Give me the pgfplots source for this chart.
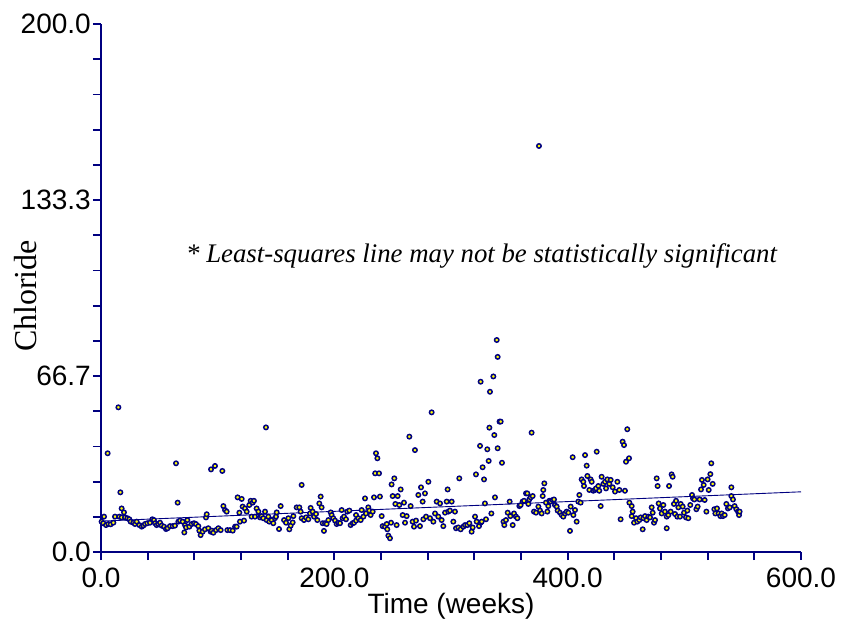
\documentclass[border=0pt]{standalone}
\usepackage{fontspec}
\setmainfont{Liberation Serif}
\newfontfamily\arial{Liberation Sans}
\usepackage{pgfplots}
\pgfplotsset{compat=1.18}
\definecolor{navy}{RGB}{0,0,128}
\definecolor{dotfill}{RGB}{255,255,0}

\begin{document}
\begin{tikzpicture}
\useasboundingbox (-101pt,-73pt) rectangle (744pt,552pt);
\begin{axis}[
  scale only axis, width=700pt, height=528pt,
  xmin=0, xmax=600, ymin=0, ymax=200,
  axis x line*=bottom, axis y line*=left,
  axis line style={navy, line width=1.8pt},
  every tick/.style={navy, line width=1.8pt},
  tick align=outside, major tick length=8pt, minor tick length=8pt,
  xtick={0,200,400,600}, xticklabels={0.0,200.0,400.0,600.0},
  minor xtick={40,80,120,160,240,280,320,360,440,480,520,560},
  ytick={0,66.6667,133.3333,200}, yticklabels={0.0,66.7,133.3,200.0},
  minor ytick={13.3333,26.6667,40,53.3333,80,93.3333,106.6667,120,146.6667,160,173.3333,186.6667},
  /pgf/number format/assume math mode=true,
  tick label style={font=\arial\fontsize{28}{29}\selectfont, text=black},
  yticklabel style={inner xsep=2pt},
  xticklabel style={inner ysep=8pt},
  clip=false,
]
% weekly chloride readings
\addplot[only marks, mark=*, mark size=2.2pt,
  mark options={draw=navy, fill=dotfill, line width=1.5pt}] table {
x y
0.5 11.5
2.0 10.9
2.6 13.4
4.3 10.2
5.7 37.4
6.3 10.6
8.3 10.5
10.6 11.1
12.0 13.4
14.9 54.8
15.7 13.4
16.6 22.6
17.7 16.5
17.7 13.1
19.7 15.0
20.6 13.1
22.6 12.8
24.3 12.4
25.4 11.5
27.7 11.1
29.1 10.6
30.6 11.5
32.9 10.2
34.9 9.6
36.3 10.0
37.7 10.6
39.7 10.9
42.0 11.1
44.0 12.4
45.4 12.1
46.3 10.9
47.7 10.2
49.1 10.6
50.6 11.1
52.0 10.0
54.0 9.6
55.7 8.7
57.1 9.0
59.1 9.8
61.4 9.8
63.4 10.0
64.3 33.6
65.7 18.7
66.3 11.5
67.7 11.9
70.0 11.5
71.4 7.4
72.0 10.2
72.9 9.3
74.0 12.1
75.7 9.6
77.7 10.6
79.7 10.9
81.4 10.6
83.4 9.8
84.3 8.1
85.4 6.4
87.1 7.7
89.1 8.6
90.0 13.1
90.6 14.3
92.0 9.0
94.0 7.7
94.3 31.3
94.9 8.1
96.3 7.3
97.7 32.6
98.6 8.3
100.6 9.0
102.6 8.3
104.0 30.7
104.9 17.4
106.3 15.9
107.7 15.3
108.3 8.3
110.6 8.3
112.9 8.1
114.9 9.6
116.3 9.6
117.1 20.7
118.6 14.9
119.1 11.5
120.6 20.1
121.4 17.2
122.6 11.9
123.4 16.5
124.9 15.3
127.1 17.8
128.3 19.4
129.1 13.4
130.0 18.7
131.1 19.4
132.0 13.4
133.4 16.5
134.9 15.3
136.3 13.1
137.7 13.6
139.1 12.8
140.6 15.3
141.4 47.2
142.0 12.1
143.4 13.4
144.3 11.5
146.3 12.1
147.7 10.9
149.1 12.8
150.0 13.4
150.6 15.0
152.6 8.7
154.0 17.4
156.9 12.1
158.6 11.1
160.6 12.8
161.4 8.6
162.6 10.0
164.3 11.2
164.9 13.6
167.7 16.9
170.0 16.9
171.1 15.3
172.0 25.4
172.0 12.8
174.0 12.1
175.7 13.1
177.7 12.4
179.1 14.6
179.7 16.7
181.4 15.3
182.6 13.4
184.3 14.4
185.4 12.1
187.1 18.4
188.3 21.0
189.1 16.9
190.0 10.9
191.1 8.0
192.0 10.9
193.4 10.6
194.9 12.1
196.9 15.0
197.7 14.0
199.1 12.8
200.6 11.9
202.0 10.6
203.4 11.1
204.9 10.9
206.3 15.9
207.1 12.8
208.3 13.4
210.0 12.4
211.1 15.3
212.9 15.7
214.0 10.2
215.7 10.9
216.9 11.1
218.6 14.0
218.6 11.9
220.6 12.8
222.6 12.1
223.4 15.9
224.9 13.4
226.3 20.3
227.1 14.6
229.1 16.9
230.0 15.7
231.1 14.0
232.9 15.3
234.0 20.7
235.0 29.8
235.7 37.4
236.9 35.5
238.3 29.8
239.1 21.0
240.6 13.6
241.4 9.8
243.4 9.6
244.9 10.6
245.4 8.6
246.3 6.2
247.7 5.2
248.6 11.1
249.1 25.6
250.0 21.2
251.4 27.9
252.3 18.2
253.4 10.2
254.3 21.2
255.7 17.8
256.9 23.7
258.6 14.0
259.7 18.7
260.6 11.1
262.0 13.6
264.3 43.7
265.4 17.4
267.1 11.5
268.3 9.6
269.1 38.6
270.0 11.9
272.0 21.6
273.4 9.8
274.3 24.5
275.7 19.1
276.3 12.4
277.7 22.2
278.6 13.4
280.6 26.6
282.0 12.8
283.4 52.9
284.9 11.5
286.3 14.6
287.7 19.1
289.1 13.4
290.6 18.4
292.0 12.1
293.4 9.8
294.9 14.9
296.3 19.1
297.1 23.7
297.7 15.3
299.1 15.7
300.6 19.1
302.0 11.5
303.4 15.3
304.3 9.0
306.3 9.3
307.1 27.9
308.3 8.6
310.6 9.6
312.0 10.2
314.0 10.2
315.7 10.9
317.7 7.7
318.6 9.3
320.6 13.4
321.4 29.4
322.0 11.5
324.0 9.8
324.9 40.2
325.4 64.5
325.4 11.1
326.3 11.5
327.1 32.1
328.3 27.5
329.1 18.4
330.0 12.4
331.1 38.9
332.3 34.5
332.9 47.1
333.4 60.7
334.6 14.6
336.3 66.5
337.1 44.3
337.7 20.7
339.2 80.3
340.0 73.9
340.0 39.3
341.6 49.4
342.6 49.4
343.7 33.8
345.0 11.5
345.7 10.2
347.1 12.1
348.6 14.9
350.3 19.1
350.9 13.6
352.9 10.2
354.0 14.6
355.7 13.4
356.9 12.8
358.6 17.4
359.7 17.8
361.4 19.1
362.6 19.4
364.3 22.2
365.4 22.2
366.3 18.2
367.1 19.9
368.3 20.7
369.1 45.2
370.0 21.2
371.1 15.3
372.9 14.9
374.9 17.2
375.4 153.8
376.3 15.7
377.7 14.6
378.6 21.2
379.1 23.5
380.0 26.0
381.4 18.7
382.6 15.3
383.4 17.4
384.3 19.4
385.4 19.1
387.1 19.7
388.3 19.9
389.1 17.8
390.6 17.2
391.4 15.7
393.4 14.9
394.9 14.0
396.3 13.4
397.7 14.6
399.1 15.3
400.6 14.9
402.0 8.0
402.6 17.2
404.3 35.9
404.9 14.0
406.3 15.9
407.7 11.5
409.1 19.1
410.0 21.6
411.1 18.7
412.0 27.5
413.4 26.6
414.0 25.0
414.9 36.7
416.3 32.7
416.9 28.8
418.6 23.5
419.7 27.5
420.6 26.6
422.0 23.2
423.4 23.5
424.3 24.1
424.9 38.0
426.3 25.0
427.1 23.2
428.3 17.4
429.1 28.5
430.6 25.8
432.0 26.6
432.9 24.1
434.0 27.5
435.7 25.8
436.9 27.3
438.6 24.5
440.6 22.9
442.6 26.6
444.3 23.5
445.4 12.4
447.1 41.8
448.3 40.5
449.1 23.2
450.0 34.2
451.1 46.5
452.6 35.5
452.9 18.7
454.9 17.4
454.9 13.6
455.7 15.3
456.9 11.1
458.6 12.8
459.7 11.5
461.4 12.1
462.6 13.1
464.3 8.6
464.9 12.8
466.3 13.6
467.7 12.1
469.1 13.4
470.6 13.1
472.0 16.9
472.9 14.9
474.0 11.1
474.9 12.1
476.3 27.9
477.1 25.0
478.0 18.4
479.1 16.5
480.6 14.6
482.0 17.8
483.4 15.3
484.9 13.4
484.9 9.0
486.3 14.0
486.9 25.0
488.3 15.3
489.1 29.4
490.0 28.5
491.1 18.2
492.0 14.4
492.9 19.4
494.0 13.4
494.9 16.9
496.3 13.4
496.9 18.2
498.6 17.2
499.7 14.9
501.4 13.1
502.6 15.7
503.4 12.8
505.1 17.8
506.6 21.6
507.4 20.3
508.6 19.9
510.3 16.2
511.4 17.2
513.1 19.9
514.3 23.7
515.1 27.3
516.6 25.4
517.4 19.7
518.9 15.3
520.0 27.5
520.9 23.5
522.3 29.5
523.1 33.6
524.3 25.8
525.7 16.2
526.6 14.6
528.0 16.5
529.4 14.6
530.9 13.6
532.0 14.6
533.1 13.6
534.6 14.0
536.0 18.2
537.4 16.5
538.9 16.9
540.3 24.5
540.3 21.2
541.7 19.9
543.1 17.4
544.6 16.2
546.0 15.3
546.9 14.0
547.4 15.3
};
% least-squares fit
\addplot[navy, line width=0.9pt] coordinates {(0,11.7) (600,22.8)};

\node[anchor=base west, font=\itshape\fontsize{26.8}{28}\selectfont]
  at (axis cs:70,109.8) {* Least-squares line may not be statistically significant};
\node[rotate=90, font=\fontsize{32}{34}\selectfont]
  at (rel axis cs:-0.108,0.485) {Chloride};
\node[anchor=base, font=\arial\fontsize{28}{29}\selectfont]
  at (rel axis cs:0.5,-0.117) {Time (weeks)};
\end{axis}
\end{tikzpicture}
\end{document}
